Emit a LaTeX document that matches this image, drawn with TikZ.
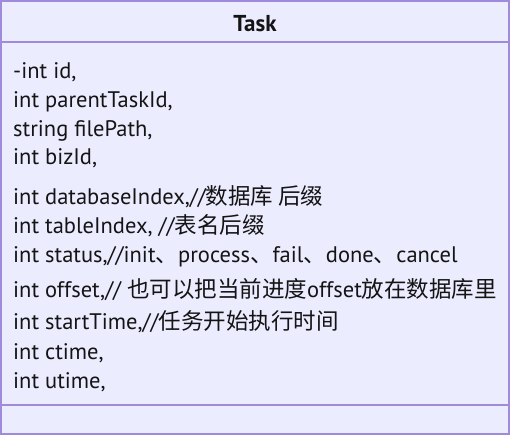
\documentclass[tikz,border=0pt]{standalone}
\usepackage{fontspec}
\setmainfont{PT Sans}
\newfontfamily\cjk{Noto Sans CJK SC}
\definecolor{boxfill}{HTML}{ECECFF}
\definecolor{boxline}{HTML}{A08ADB}
\definecolor{txt}{HTML}{141414}
\begin{document}
\begin{tikzpicture}[x=1pt,y=1pt,
  attr/.style={anchor=base west,inner sep=0pt,text=txt,font=\fontsize{22.5}{26}\selectfont},
  title/.style={anchor=base,inner sep=0pt,text=txt,font=\fontsize{23}{26}\selectfont\bfseries}]
\useasboundingbox (0,0) rectangle (510,-436);
\draw[boxline,fill=boxfill,line width=2pt] (1,-1) rectangle (509,-434);
\draw[boxline,line width=2pt] (1,-42) -- (509,-42);
\draw[boxline,line width=2pt] (1,-405) -- (509,-405);
\node[title] (t) at (255,-31) {Task};
\node[attr] (a1) at (13,-78) {-int id,};
\node[attr] (a2) at (13,-107) {int parentTaskId,};
\node[attr] (a3) at (13,-136) {string filePath,};
\node[attr] (a4) at (13,-164) {int bizId,};
\node[attr] (a5) at (13,-204) {int databaseIndex,//{\cjk 数据库 后缀}};
\node[attr] (a6) at (13,-233) {int tableIndex, //{\cjk 表名后缀}};
\node[attr] (a7) at (13,-262) {int status,//init{\cjk 、}process{\cjk 、}fail{\cjk 、}done{\cjk 、}cancel};
\node[attr] (a8) at (13,-297) {int offset,// {\cjk 也可以把当前进度}offset{\cjk 放在数据库里}};
\node[attr] (a9) at (13,-329) {int startTime,//{\cjk 任务开始执行时间}};
\node[attr] (a10) at (13,-359) {int ctime,};
\node[attr] (a11) at (13,-388) {int utime,};
\end{tikzpicture}
\end{document}
